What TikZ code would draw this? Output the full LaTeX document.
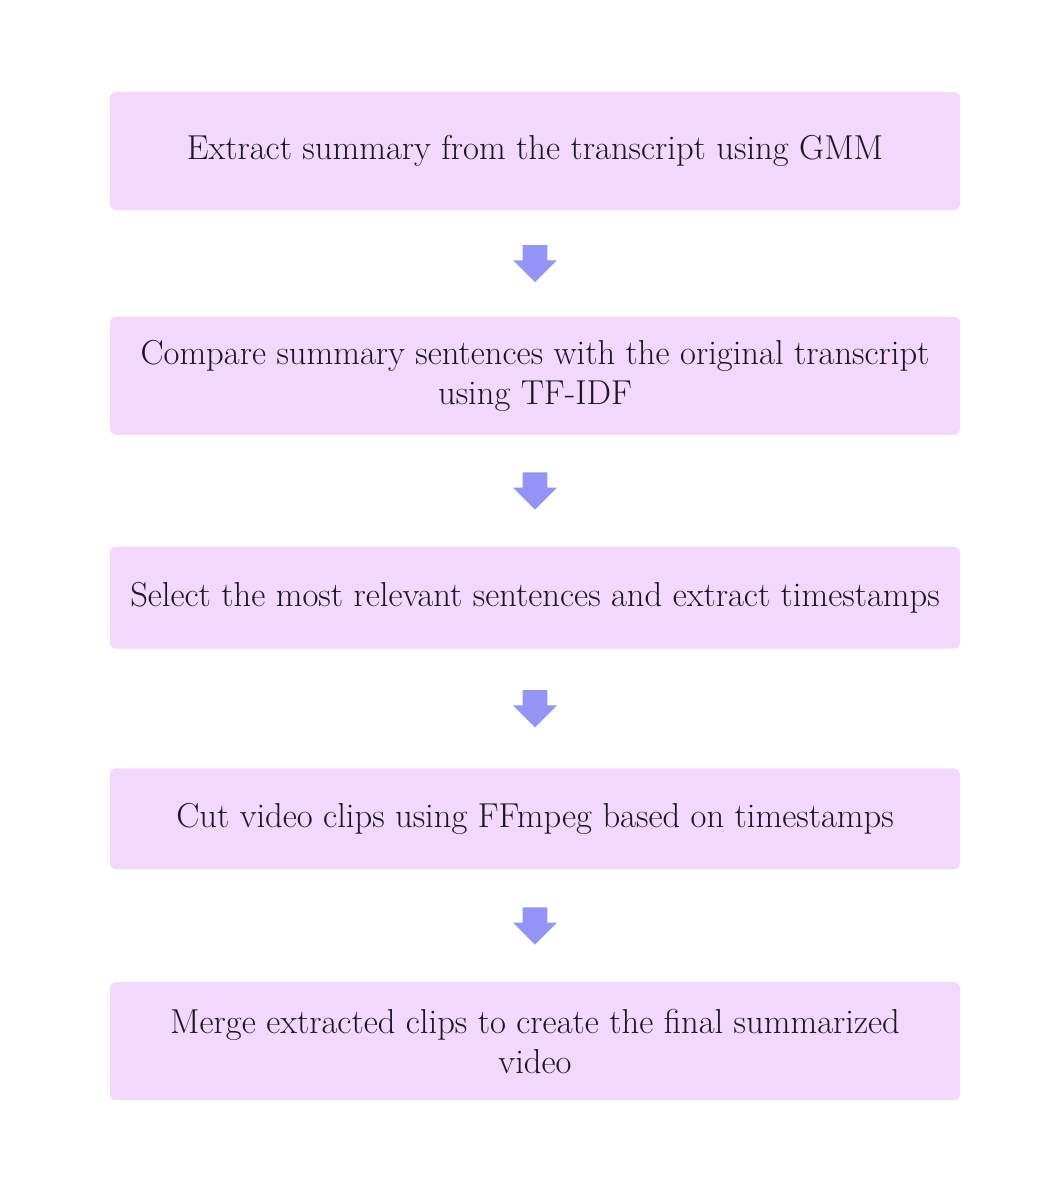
\documentclass[tikz,border=0pt]{standalone}
\usetikzlibrary{positioning}
\usetikzlibrary{calc}
\usetikzlibrary{shapes.arrows}
\definecolor{boxfill}{RGB}{242,216,253}
\definecolor{flowblue}{RGB}{148,148,246}
\definecolor{ink}{RGB}{28,22,36}
\tikzset{stage/.style={fill=boxfill, rounded corners=3pt, minimum width=425pt, align=center, inner sep=0pt, text=ink, font=\fontsize{17.3}{19.8}\selectfont}}
\tikzset{flow/.style={single arrow, fill=flowblue, draw=none, shape border rotate=270, minimum height=18pt, minimum width=21.5pt, single arrow head extend=4.75pt, inner sep=6pt, text width=0pt, yshift=3pt}}

\begin{document}
\begin{tikzpicture}
\useasboundingbox (0,0) rectangle (523pt,-594.5pt);

\node[stage, minimum height=59pt] (b1) at (267.5pt,-75.5pt) {Extract summary from the transcript using GMM};
\node[stage, minimum height=59pt, below=53pt of b1] (b2) {Compare summary sentences with the original transcript\\using TF-IDF};
\node[stage, minimum height=51pt, below=55.5pt of b2] (b3) {Select the most relevant sentences and extract timestamps};
\node[stage, minimum height=50.5pt, below=59.5pt of b3] (b4) {Cut video clips using FFmpeg based on timestamps};
\node[stage, minimum height=59pt, below=56pt of b4] (b5) {Merge extracted clips to create the final summarized\\video};

% arrows between the steps
\node[flow] (a1) at ($(b1.south)!0.5!(b2.north)$) {};
\node[flow] (a2) at ($(b2.south)!0.5!(b3.north)$) {};
\node[flow] (a3) at ($(b3.south)!0.5!(b4.north)$) {};
\node[flow] (a4) at ($(b4.south)!0.5!(b5.north)$) {};

\end{tikzpicture}
\end{document}
